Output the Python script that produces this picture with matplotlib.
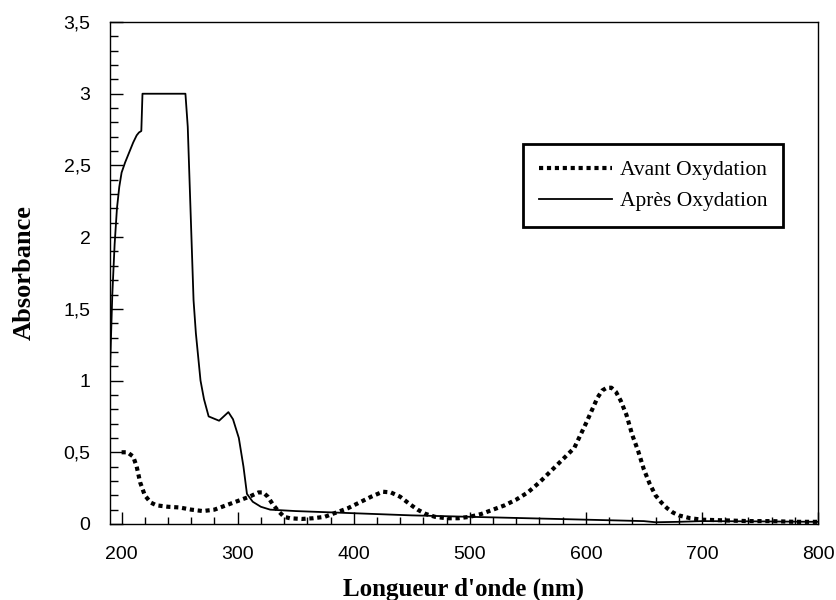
# UV-vis spectra before / after oxidation
import matplotlib.pyplot as plt
from matplotlib.ticker import MultipleLocator, FuncFormatter

# Avant oxydation (dotted curve)
wl_avant = [200, 205, 210, 213, 216, 220, 225, 230, 240, 250, 260, 270, 280, 290,
            300, 310, 318, 322, 326, 330, 335, 340, 345, 355, 365, 375, 385, 395,
            405, 415, 425, 432, 440, 448, 455, 462, 470, 480, 490, 500, 510, 520,
            530, 540, 550, 560, 570, 580, 590, 600, 605, 610, 614, 618, 622, 626,
            630, 635, 640, 645, 650, 655, 660, 665, 670, 675, 680, 690, 700, 720,
            740, 760, 780, 800]
abs_avant = [0.50, 0.50, 0.47, 0.40, 0.29, 0.20, 0.15, 0.13, 0.12, 0.115, 0.10, 0.09, 0.10, 0.13,
             0.16, 0.19, 0.22, 0.22, 0.19, 0.14, 0.09, 0.05, 0.04, 0.035, 0.04, 0.05, 0.08, 0.11,
             0.15, 0.19, 0.225, 0.22, 0.19, 0.14, 0.10, 0.07, 0.05, 0.04, 0.04, 0.05, 0.07, 0.10,
             0.13, 0.17, 0.22, 0.29, 0.37, 0.45, 0.53, 0.70, 0.79, 0.88, 0.93, 0.95, 0.95, 0.92,
             0.86, 0.76, 0.62, 0.51, 0.38, 0.28, 0.20, 0.15, 0.11, 0.08, 0.06, 0.04, 0.03, 0.025,
             0.02, 0.02, 0.015, 0.015]

# Apres oxydation (solid curve)
wl_apres = [190, 192, 194, 196, 198, 200, 203, 207, 210, 213, 215, 217, 218, 230, 245,
            255, 257, 262, 264, 268, 271, 275, 284, 292, 296, 301, 305, 308, 313, 320,
            328, 350, 400, 450, 500, 550, 600, 650, 660, 680, 700, 750, 800]
abs_apres = [1.07, 1.60, 1.95, 2.20, 2.35, 2.45, 2.52, 2.60, 2.66, 2.71, 2.73, 2.74, 3.00, 3.00, 3.00,
             3.00, 2.77, 1.56, 1.33, 1.00, 0.87, 0.75, 0.72, 0.78, 0.73, 0.60, 0.40, 0.21, 0.155, 0.12,
             0.10, 0.09, 0.075, 0.06, 0.05, 0.04, 0.03, 0.02, 0.012, 0.015, 0.02, 0.018, 0.015]

fig = plt.figure(figsize=(8.37, 6), dpi=100)
ax = fig.add_axes([0.1314, 0.1267, 0.8459, 0.8366])

ax.plot(wl_avant, abs_avant, color='black', lw=3, linestyle=(0, (1, 0.9)),
        label='Avant Oxydation')
ax.plot(wl_apres, abs_apres, color='black', lw=1.3, label='Après Oxydation')

ax.set_xlim(190, 800)
ax.set_ylim(0, 3.5)

ax.xaxis.set_major_locator(MultipleLocator(100))
ax.xaxis.set_minor_locator(MultipleLocator(20))
ax.yaxis.set_major_locator(MultipleLocator(0.5))
ax.yaxis.set_minor_locator(MultipleLocator(0.1))

def comma(v, pos):
    s = ('%g' % v)
    return s.replace('.', ',')

ax.yaxis.set_major_formatter(FuncFormatter(comma))

ax.tick_params(axis='x', which='major', direction='in', length=9, width=1, pad=16)
ax.tick_params(axis='x', which='minor', direction='in', length=5, width=1)
ax.tick_params(axis='y', which='major', direction='in', length=9.5, width=1, pad=14)
ax.tick_params(axis='y', which='minor', direction='in', length=6, width=1)
for lab in ax.get_xticklabels() + ax.get_yticklabels():
    lab.set_fontfamily('Liberation Sans')
    lab.set_fontsize(14)

for sp in ax.spines.values():
    sp.set_linewidth(1)

ax.set_xlabel("Longueur d'onde (nm)", fontfamily='Liberation Serif', fontweight='bold',
              fontsize=18, labelpad=10)
ax.set_ylabel('Absorbance', fontfamily='Liberation Serif', fontweight='bold',
              fontsize=19, labelpad=20)

leg = ax.legend(loc='upper left', bbox_to_anchor=(0.583, 0.757), borderaxespad=0,
                frameon=True, fancybox=False, edgecolor='black', framealpha=1,
                handlelength=3.4, handletextpad=0.35,
                prop={'family': 'Liberation Serif', 'size': 15.5}, borderpad=0.75,
                labelspacing=0.5)
leg.get_frame().set_linewidth(2)

plt.savefig('out.png', dpi=100)
